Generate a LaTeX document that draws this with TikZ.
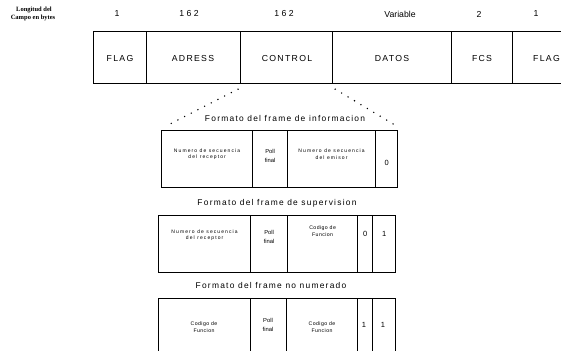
\documentclass[tikz,border=0pt]{standalone}
\usepackage{fontspec}
\setmainfont{Liberation Sans}
\newfontfamily\spacedsans[LetterSpace=15]{Liberation Sans}
\newfontfamily\widesans[LetterSpace=22]{Liberation Sans}
\newfontfamily\lightsans[LetterSpace=8]{Liberation Sans}
\newfontfamily\boldserif{Liberation Serif}
\begin{document}
\begin{tikzpicture}[x=1pt,y=-1pt,
  cell/.style={draw, line width=1.2pt, rectangle, inner sep=0pt, anchor=north west},
  topcell/.style={cell, minimum height=52pt},
  fieldtxt/.style={inner sep=0pt, font=\spacedsans\fontsize{8.7}{10}\selectfont},
  framecell/.style={cell, minimum height=57pt},
  headlbl/.style={inner sep=0pt, font=\fontsize{8.7}{10}\selectfont},
  sidelbl/.style={inner sep=0pt, font=\boldserif\bfseries\fontsize{6.5}{7}\selectfont},
  title/.style={inner sep=0pt, font=\spacedsans\fontsize{8.4}{10}\selectfont},
  seqtxt/.style={inner sep=0pt, align=center, font=\widesans\fontsize{5}{6.5}\selectfont},
  codetxt/.style={inner sep=0pt, align=center, font=\lightsans\fontsize{5.2}{6.5}\selectfont},
  polltxt/.style={inner sep=0pt, align=center, font=\fontsize{5.8}{9}\selectfont},
  bittxt/.style={inner sep=0pt, font=\fontsize{7.5}{9}\selectfont},
  dots/.style={line width=1.6pt, line cap=round, dash pattern=on 0pt off 7.5pt}
]
\useasboundingbox (0,0) rectangle (561,350);
\clip (0,0) rectangle (561,350);

% field lengths
\node[sidelbl] (lenA) at (34,10) {Longitud del};
\node[sidelbl] (lenB) at (33,17.5) {Campo en bytes};
\node[headlbl] (h1) at (117,14) {1};
\node[headlbl] (h2) at (189,14) {1 6 2};
\node[headlbl] (h3) at (284,14) {1 6 2};
\node[headlbl] (h4) at (400,14) {Variable};
\node[headlbl] (h5) at (479,14) {2};
\node[headlbl] (h6) at (536,14) {1};

% HDLC frame
\node[topcell, minimum width=53pt]  (flagA) at (93,31)  {};
\node[topcell, minimum width=94pt]  (adr)   at (146,31) {};
\node[topcell, minimum width=92pt]  (ctrl)  at (240,31) {};
\node[topcell, minimum width=119pt] (dat)   at (332,31) {};
\node[topcell, minimum width=61pt]  (fcs)   at (451,31) {};
\node[topcell, minimum width=80pt]  (flagB) at (512,31) {};
\node[fieldtxt] (flagAt) at (120,59) {FLAG};
\node[fieldtxt] (adrt)   at (193,59) {ADRESS};
\node[fieldtxt] (ctrlt)  at (287,59) {CONTROL};
\node[fieldtxt] (datt)   at (392,59) {DATOS};
\node[fieldtxt] (fcst)   at (482,59) {FCS};
\node[fieldtxt, anchor=east] (flagBt) at (560,59) {FLAG};

% information frame
\node[title] (tInfo) at (285,118) {Formato del frame de informacion};
\node[framecell, minimum width=91pt] (i1) at (161,130) {};
\node[framecell, minimum width=35pt] (i2) at (252,130) {};
\node[framecell, minimum width=88pt] (i3) at (287,130) {};
\node[framecell, minimum width=22pt] (i4) at (375,130) {};
\node[seqtxt]  (i1t) at ([yshift=5]i1.center) {Numero de secuencia\\del receptor};
\node[polltxt] (i2t) at ([yshift=3]i2.center) {Poll\\final};
\node[seqtxt]  (i3t) at ([yshift=5]i3.center) {Numero de secuencia\\del emisor};
\node[bittxt]  (i4t) at ([yshift=-4]i4.center) {0};

% expansion of the control field
\draw[dots] ([shift={(-2,5)}]ctrl.south west) -- ([shift={(9,-6)}]i1.north west);
\draw[dots] ([shift={(2,5)}]ctrl.south east) -- ([shift={(-5,-6)}]i4.north east);

% supervision frame
\node[title] (tSup) at (277,203) {Formato del frame de supervision};
\node[framecell, minimum width=92pt] (s1) at (158,215) {};
\node[framecell, minimum width=37pt] (s2) at (250,215) {};
\node[framecell, minimum width=70pt] (s3) at (287,215) {};
\node[framecell, minimum width=15pt] (s4) at (357,215) {};
\node[framecell, minimum width=23pt] (s5) at (372,215) {};
\node[seqtxt]  (s1t) at ([yshift=9]s1.center) {Numero de secuencia\\del receptor};
\node[polltxt] (s2t) at ([yshift=7]s2.center) {Poll\\final};
\node[codetxt] (s3t) at ([yshift=13]s3.center) {Codigo de\\Funcion};
\node[bittxt]  (s4t) at ([yshift=10]s4.center) {0};
\node[bittxt]  (s5t) at ([yshift=10]s5.center) {1};

% unnumbered frame
\node[title] (tUn) at (271,285) {Formato del frame no numerado};
\node[framecell, minimum width=92pt, minimum height=70pt] (u1) at (158,298) {};
\node[framecell, minimum width=36pt, minimum height=70pt] (u2) at (250,298) {};
\node[framecell, minimum width=71pt, minimum height=70pt] (u3) at (286,298) {};
\node[framecell, minimum width=15pt, minimum height=70pt] (u4) at (357,298) {};
\node[framecell, minimum width=23pt, minimum height=70pt] (u5) at (372,298) {};
\node[codetxt] (u1t) at (204,327) {Codigo de\\Funcion};
\node[polltxt] (u2t) at (268,325) {Poll\\final};
\node[codetxt] (u3t) at (322,327) {Codigo de\\Funcion};
\node[bittxt]  (u4t) at (364,325) {1};
\node[bittxt]  (u5t) at (383,325) {1};
\end{tikzpicture}
\end{document}
